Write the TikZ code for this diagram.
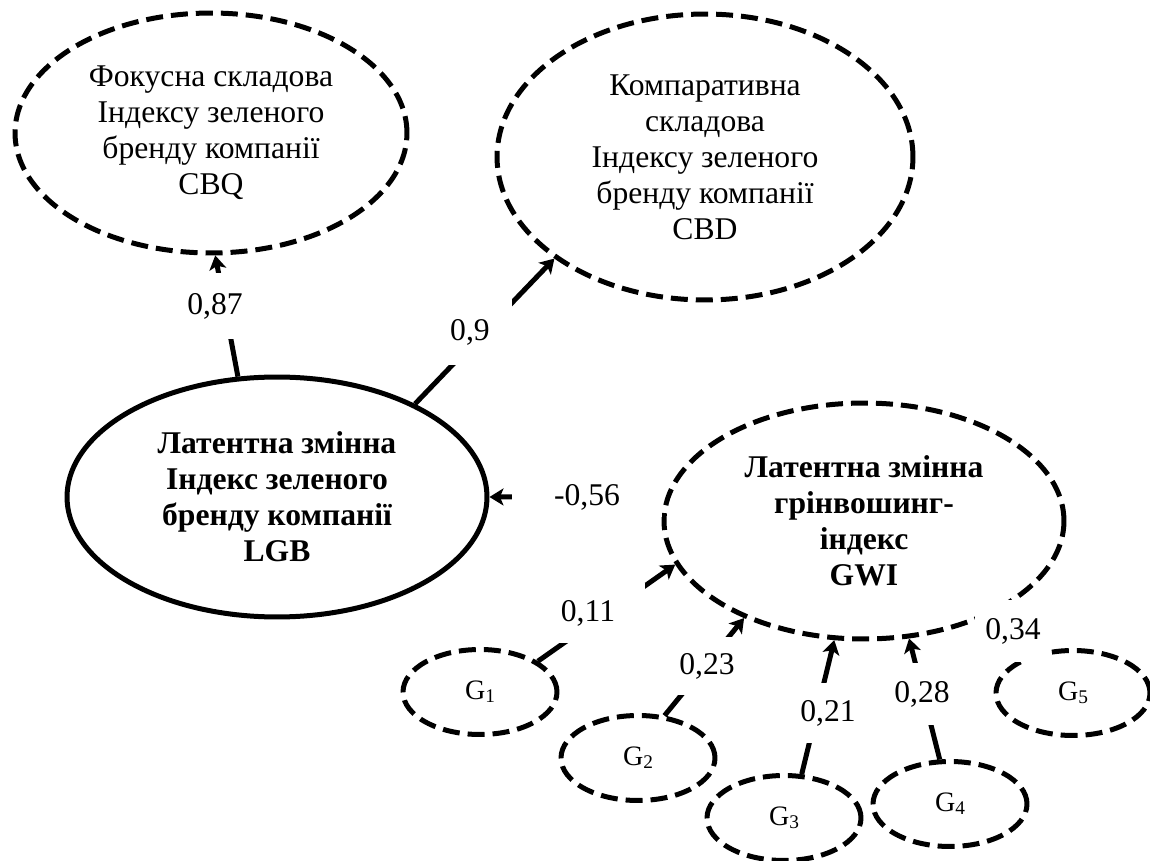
\documentclass[tikz,border=0pt]{standalone}
\usepackage{fontspec}
\setmainfont{Liberation Serif}
\usetikzlibrary{shapes.geometric,arrows.meta}

% indicator name with a small lowered index
\newcommand{\gsub}[1]{G\raisebox{-0.12em}{\fontsize{11}{11}\selectfont #1}}

\begin{document}
\begin{tikzpicture}[x=0.02cm,y=-0.02cm,
  every node/.style={inner sep=0pt},
  dashedline/.style={dash pattern=on 0.34cm off 0.16cm},
  factor/.style={ellipse, draw, line width=0.1cm, align=center,
    font=\fontsize{18}{20.5}\selectfont},
  latent/.style={factor, font=\fontsize{18}{20.5}\selectfont\bfseries},
  item/.style={ellipse, draw, line width=0.1cm, dashedline,
    minimum width=3.08cm, minimum height=1.7cm,
    font=\fontsize{16}{16}\selectfont},
  link/.style={line width=0.1cm,
    -{Stealth[length=0.28cm,width=0.34cm,inset=0.07cm]}},
  coef/.style={fill=white, font=\fontsize{18}{18}\selectfont},
]
\useasboundingbox (0,0) rectangle (1150,861);

% component constructs
\node[factor, dashedline, minimum width=7.84cm, minimum height=4.8cm] (CBQ) at (211,133)
  {Фокусна складова\\Індексу зеленого\\бренду компанії\\CBQ};
\node[factor, dashedline, minimum width=8.32cm, minimum height=5.72cm] (CBD) at (705,157)
  {Компаративна\\складова\\Індексу зеленого\\бренду компанії\\CBD};

% latent variables
\node[latent, minimum width=8.4cm, minimum height=4.8cm] (LGB) at (277,497)
  {Латентна змінна\\Індекс зеленого\\бренду компанії\\LGB};
\node[latent, dashedline, minimum width=8cm, minimum height=4.72cm] (GWI) at (864,521)
  {Латентна змінна\\грінвошинг-\\індекс\\GWI};

% indicators
\node[item] (G1) at (480,692) {\gsub{1}};
\node[item] (G2) at (638,758) {\gsub{2}};
\node[item] (G3) at (784,818) {\gsub{3}};
\node[item] (G4) at (950,804) {\gsub{4}};
\node[item] (G5) at (1073,693) {\gsub{5}};

% paths
\draw[link] (LGB.108.6) -- (CBQ.272.8);
\draw[link] (LGB.34.6) -- (CBD.214.6);
\draw[link, shorten <=0.14cm] (GWI.173) -- (LGB.0);
\draw[link] (G1.28.7) -- (GWI.193.7);
\draw[link] (G2.58.6) -- (GWI.219.2);
\draw[link] (G3.68.2) -- (GWI.256.6);
\draw[link] (G4.103.4) -- (GWI.291.9);
\draw[link] (G5.132) -- (GWI.327);

% coefficients
\node[coef, minimum width=1.4cm,  minimum height=1.32cm] (c87) at (215,306) {0,87};
\node[coef, minimum width=1.68cm, minimum height=1.32cm] (c9)  at (470,332) {0,9};
\node[coef, minimum width=3.0cm,  minimum height=0.8cm]  (c56) at (587,497) {-0,56};
\node[coef, minimum width=2.28cm, minimum height=1.2cm]  (c11) at (588,613) {0,11};
\node[coef, minimum width=1.28cm, minimum height=1.16cm] (c23) at (707,666) {0,23};
\node[coef, minimum width=1.24cm, minimum height=1.2cm]  (c21) at (828,713) {0,21};
\node[coef, minimum width=1.24cm, minimum height=1.26cm] (c28) at (922,694) {0,28};
\node[coef, minimum width=1.52cm, minimum height=1.24cm] (c34) at (1013,631) {0,34};
\end{tikzpicture}
\end{document}
